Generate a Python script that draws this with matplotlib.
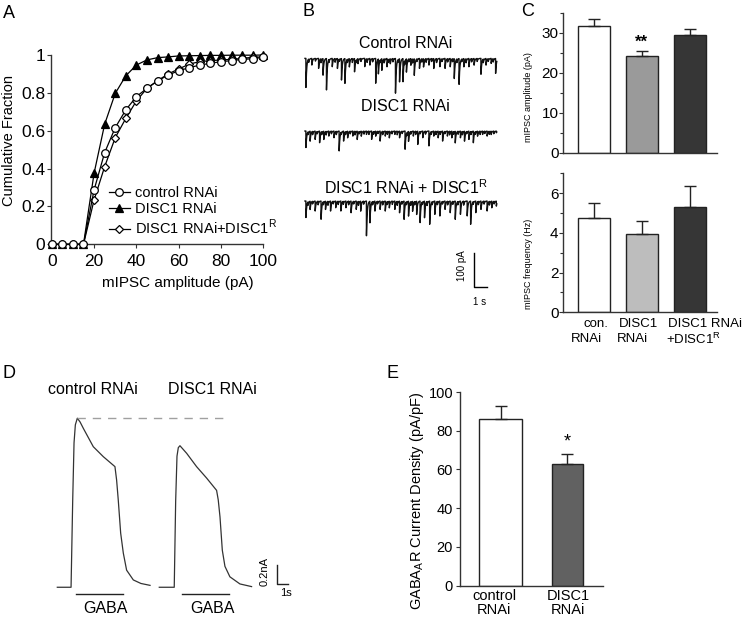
import numpy as np
import matplotlib
matplotlib.use('Agg')
from matplotlib import pyplot as plt

plt.rcParams['font.family'] = ['Liberation Sans', 'DejaVu Sans']
plt.rcParams['mathtext.fontset'] = 'custom'
plt.rcParams['mathtext.rm'] = 'Liberation Sans'

W, H = 745, 618

# ---- A: cumulative fraction of mIPSC amplitudes
amp_bins = [0, 5, 10, 15, 20, 25, 30, 35, 40, 45, 50, 55, 60, 65, 70, 75, 80, 85, 90, 95, 100]
cum_control = [0, 0, 0, 0, 0.287, 0.484, 0.616, 0.71, 0.78, 0.824, 0.863, 0.894, 0.917, 0.933,
               0.947, 0.956, 0.965, 0.97, 0.977, 0.98, 0.988]
cum_disc1 = [0, 0, 0, 0, 0.375, 0.634, 0.797, 0.89, 0.947, 0.974, 0.986, 0.99, 0.995, 0.996,
             0.997, 0.998, 0.998, 0.999, 0.999, 0.999, 1.0]
cum_rescue = [0, 0, 0, 0, 0.234, 0.41, 0.563, 0.665, 0.757, 0.824, 0.864, 0.9, 0.926, 0.952,
              0.965, 0.97, 0.974, 0.977, 0.982, 0.988, 0.99]
legend_labels = ['control RNAi', 'DISC1 RNAi', 'DISC1 RNAi+DISC1$^\\mathregular{R}$']

# ---- B: example traces, events (time s, amplitude pA)
trace_names = ['Control RNAi', 'DISC1 RNAi', 'DISC1 RNAi + DISC1$^\\mathregular{R}$']
ev_t_control = [0.08, 0.56, 1.11, 1.47, 1.75, 2.22, 2.64, 2.97, 3.25, 3.61, 4.03, 4.31, 4.86, 5.28,
                5.75, 5.97, 6.25, 6.67, 6.94, 7.36, 7.69, 7.97, 8.25, 8.61, 8.89, 9.31, 9.64, 10.08,
                10.47, 10.97, 11.39, 11.81, 12.14, 12.53, 12.92, 13.33, 13.75, 14.31, 14.72, 15.14, 15.5]
ev_a_control = [88, 20, 30, 50, 95, 25, 30, 65, 75, 25, 40, 15, 25, 20, 75, 45, 35, 25, 15, 105,
                70, 70, 40, 20, 50, 30, 25, 20, 30, 25, 30, 25, 60, 78, 25, 25, 20, 48, 20, 15, 45]
ev_t_disc1 = [0.08, 0.42, 0.83, 1.19, 1.53, 1.94, 2.36, 2.78, 3.14, 3.47, 3.89, 4.25, 4.58, 5.0,
              5.42, 5.75, 6.11, 6.53, 6.86, 7.31, 7.69, 8.14, 8.42, 8.81, 9.17, 9.58, 10.08, 10.47,
              10.83, 11.19, 11.58, 11.94, 12.22, 12.64, 12.97, 13.33, 13.69, 14.03, 14.44, 14.81,
              15.14, 15.56]
ev_a_disc1 = [50, 30, 25, 35, 25, 15, 20, 60, 30, 20, 15, 25, 15, 10, 25, 15, 30, 15, 20, 10, 20,
              55, 30, 15, 40, 20, 45, 15, 20, 30, 15, 20, 35, 20, 30, 25, 35, 15, 10, 15, 10, 5]
ev_t_rescue = [0.08, 0.42, 0.83, 1.31, 1.67, 2.08, 2.5, 2.92, 3.33, 3.75, 4.17, 4.53, 5.0, 5.28,
               5.69, 6.11, 6.53, 6.86, 7.31, 7.69, 8.06, 8.42, 8.75, 9.08, 9.36, 9.72, 10.14,
               10.56, 10.97, 11.39, 11.81, 12.22, 12.64, 13.19, 13.47, 13.89, 14.31, 14.81,
               15.19, 15.56]
ev_a_rescue = [50, 25, 30, 55, 25, 30, 20, 30, 20, 35, 25, 30, 105, 65, 30, 25, 30, 20, 25, 35,
               55, 45, 30, 40, 65, 50, 70, 40, 45, 25, 35, 55, 40, 45, 70, 35, 25, 30, 20, 15]
# small baseline flickers (estimated)
sm_t_control = [0.3, 0.85, 1.3, 1.95, 2.45, 2.8, 3.45, 3.85, 4.15, 4.55, 5.05, 5.5, 6.1, 6.45, 6.8,
                7.15, 7.55, 8.1, 8.45, 8.75, 9.1, 9.5, 9.85, 10.3, 10.7, 11.15, 11.6, 12.0, 12.35,
                12.75, 13.1, 13.55, 14.0, 14.5, 14.9, 15.3]
sm_a_control = [10, 8, 12, 9, 11, 7, 10, 12, 8, 9, 11, 10, 8, 12, 9, 10, 8, 11, 9, 12, 8, 10, 11, 9,
                12, 8, 10, 9, 11, 8, 12, 10, 9, 11, 8, 10]
sm_t_disc1 = [0.25, 0.62, 1.0, 1.36, 1.72, 2.15, 2.55, 2.95, 3.3, 3.68, 4.07, 4.42, 4.8, 5.2, 5.58,
              5.93, 6.32, 6.7, 7.08, 7.5, 7.9, 8.28, 8.6, 9.0, 9.37, 9.8, 10.27, 10.65, 11.0, 11.38,
              11.76, 12.08, 12.45, 12.8, 13.15, 13.5, 13.86, 14.24, 14.62, 14.98, 15.35]
sm_a_disc1 = [8, 10, 7, 9, 11, 8, 10, 7, 9, 8, 11, 7, 9, 10, 8, 7, 10, 9, 8, 11, 7, 9, 8, 10, 7, 9,
              8, 10, 9, 7, 11, 8, 9, 10, 7, 9, 8, 10, 7, 9, 8]
sm_t_rescue = [0.25, 0.62, 1.07, 1.5, 1.87, 2.3, 2.7, 3.12, 3.55, 3.96, 4.35, 4.77, 5.5, 5.9, 6.32,
               6.7, 7.1, 7.5, 7.88, 8.25, 8.6, 8.92, 9.55, 9.93, 10.35, 10.77, 11.18, 11.6, 12.02,
               12.43, 12.9, 13.68, 14.1, 14.56, 15.0, 15.38]
sm_a_rescue = [10, 8, 11, 9, 12, 8, 10, 9, 11, 8, 12, 9, 10, 8, 11, 9, 10, 12, 8, 9, 11, 10, 8, 12,
               9, 10, 8, 11, 9, 10, 12, 8, 10, 9, 11, 8]

# ---- C: mIPSC amplitude and frequency
c_groups = ['con.\nRNAi', 'DISC1\nRNAi', 'DISC1 RNAi\n+DISC1$^\\mathregular{R}$']
c_amp = [31.8, 24.2, 29.6]
c_amp_err = [1.7, 1.4, 1.3]
c_freq = [4.74, 3.93, 5.3]
c_freq_err = [0.76, 0.67, 1.08]

# ---- D: GABA-evoked currents (time s, current nA)
d_ctrl_t = [0, 1.25, 1.4, 1.52, 1.64, 1.82, 2.07, 2.38, 3.27, 4.18, 5.24, 5.39, 5.54, 5.76, 6.0,
            6.3, 6.91, 7.6, 8.43]
d_ctrl_i = [0, 0, 0.92, 1.52, 1.71, 1.78, 1.74, 1.67, 1.48, 1.375, 1.27, 1.13, 0.92, 0.57, 0.36,
            0.18, 0.077, 0.04, 0.02]
d_disc_t = [0, 1.36, 1.49, 1.61, 1.73, 1.88, 2.49, 3.39, 4.3, 5.21, 5.36, 5.52, 5.73, 5.97, 6.42,
            7.33, 8.39]
d_disc_i = [0, 0, 0.91, 1.38, 1.47, 1.49, 1.41, 1.27, 1.15, 1.02, 0.92, 0.74, 0.39, 0.22, 0.11,
            0.035, 0.007]
d_names = ['control RNAi', 'DISC1 RNAi']
d_gaba_on = [1.7, 2.09]
d_gaba_off = [5.94, 6.37]

# ---- E: GABAAR current density
e_groups = ['control\nRNAi', 'DISC1\nRNAi']
e_vals = [85.9, 62.8]
e_err = [6.9, 5.2]

fig = plt.figure(figsize=(W / 100, H / 100), dpi=100)


def box(x0, y0, x1, y1):
    return fig.add_axes([x0 / W, 1 - y1 / H, (x1 - x0) / W, (y1 - y0) / H])


def ftext(x, y, s, **kw):
    fig.text(x / W, 1 - y / H, s, ha=kw.pop('ha', 'center'), va=kw.pop('va', 'center'), **kw)


def style_axes(ax):
    for s in ['top', 'right']:
        ax.spines[s].set_visible(False)
    for s in ['left', 'bottom']:
        ax.spines[s].set_color('#333333')
        ax.spines[s].set_linewidth(1)


# panel letters
for letter, (x, y) in zip('ABCDE', [(9, 13), (308, 12), (528, 12), (9, 373), (392, 373)]):
    ftext(x, y, letter, fontsize=13)

# ---------------- A
axA = box(50.7, 55, 263.3, 244.3)
style_axes(axA)
mk = dict(color='black', lw=0.9, clip_on=False, mew=0.9)
axA.plot(amp_bins, cum_control, marker='o', ms=5.5, mfc='white', mec='black', zorder=4, **mk)
axA.plot(amp_bins, cum_disc1, marker='^', ms=6, mfc='black', mec='black', zorder=3, **mk)
axA.plot(amp_bins, cum_rescue, marker='D', ms=4.3, mfc='white', mec='black', zorder=3, **mk)
axA.set_xlim(-0.5, 100)
axA.set_ylim(0, 1)
axA.set_xticks([0, 20, 40, 60, 80, 100])
axA.set_yticks([0, 0.2, 0.4, 0.6, 0.8, 1])
axA.set_yticklabels(['0', '0.2', '0.4', '0.6', '0.8', '1'])
axA.tick_params(labelsize=12.5, length=3, width=0.8, pad=1, color='#333333')
axA.tick_params(axis='x', pad=4)
axA.legend(axA.lines, legend_labels, loc='lower left', bbox_to_anchor=(0.272, 0.04),
           frameon=False, fontsize=10.5, handlelength=1.5, handletextpad=0.3,
           labelspacing=0.12, borderpad=0, borderaxespad=0)
ftext(178, 283, 'mIPSC amplitude (pA)', fontsize=11)
ftext(9.5, 141, 'Cumulative Fraction', fontsize=10.5, rotation=90)

# ---------------- B
axB = box(295, 30, 505, 305)
axB.set_axis_off()
axB.set_xlim(0, 210 / 12.3)
axB.set_ylim(-833, 0)
tt = np.arange(0, 15.6, 0.005)


def mini_trace(times, amps, tau=0.06):
    y = np.zeros_like(tt)
    for t0, a in zip(times, amps):
        m = tt >= t0
        y[m] -= a * np.exp(-(tt[m] - t0) / tau)
    return y


b_base = [-86, -306, -518]
b_lab_y = [-39.4, -233, -479]
b_events = [(ev_t_control + sm_t_control, ev_a_control + sm_a_control),
            (ev_t_disc1 + sm_t_disc1, ev_a_disc1 + sm_a_disc1),
            (ev_t_rescue + sm_t_rescue, ev_a_rescue + sm_a_rescue)]
for name, (ts, amps), y0, ly in zip(trace_names, b_events, b_base, b_lab_y):
    axB.plot(tt + 0.81, mini_trace(ts, amps) + y0, color='#111111', lw=1.0)
    axB.text(9.0, ly, name, ha='center', va='center', fontsize=11.5)
axB.plot([14.55, 14.55, 15.61], [-676, -779, -779], color='black', lw=1)
axB.text(13.55, -714, '100 pA', rotation=90, ha='center', va='center', fontsize=7)
axB.text(14.98, -823, '1 s', ha='center', va='center', fontsize=7)

# ---------------- C
c_x = np.arange(3)
axC1 = box(563.3, 13, 717, 152.7)
axC2 = box(563.3, 173.3, 717, 312.3)
for ax, vals, errs, cols, ylim, major, minor in [
        (axC1, c_amp, c_amp_err, ['white', '#9a9a9a', '#363636'], 35, [0, 10, 20, 30], [5, 15, 25, 35]),
        (axC2, c_freq, c_freq_err, ['white', '#bdbdbd', '#363636'], 7, [0, 2, 4, 6], [1, 3, 5, 7])]:
    style_axes(ax)
    ax.bar(c_x, vals, width=0.67, color=cols, edgecolor='#222222', linewidth=1,
           yerr=[[0] * 3, errs], error_kw=dict(ecolor='#222222', elinewidth=1, capsize=4, capthick=1))
    ax.set_xlim(-0.633, 2.57)
    ax.set_ylim(0, ylim)
    ax.set_yticks(major)
    ax.set_yticks(minor, minor=True)
    ax.set_xticks([])
    ax.tick_params(axis='y', labelsize=11, length=3, width=0.8, pad=0.5, color='#333333')
    ax.tick_params(axis='y', which='minor', length=2, width=0.8, color='#333333')
axC1.text(1, 27.7, '**', ha='center', va='center', fontsize=12, fontweight='bold')
ftext(528.3, 97.5, 'mIPSC amplitude (pA)', fontsize=6.5, rotation=90)
ftext(528.3, 264.2, 'mIPSC frequency (Hz)', fontsize=6.5, rotation=90)
c_lab_pos = [((596, 324.5), (586, 339)), ((638.7, 324.5), (632.5, 339)), ((705.5, 324.5), (694, 339))]
for lab, (p1, p2) in zip(c_groups, c_lab_pos):
    l1, l2 = lab.split('\n')
    ftext(p1[0], p1[1], l1, fontsize=9.5)
    ftext(p2[0], p2[1], l2, fontsize=9.5)

# ---------------- D
axD = box(0, 380, 300, 615)
axD.set_axis_off()
axD.set_xlim(0, 300 / 11)
axD.set_ylim(-0.292, 2.182)
d_offsets = [5.21, 14.48]
d_lab_x = [8.45, 19.32]
d_gaba_x = [4.4, 4.82]
for (ts, cur), off, name, lx, g0, g1, gx in zip([(d_ctrl_t, d_ctrl_i), (d_disc_t, d_disc_i)],
                                               d_offsets, d_names, d_lab_x, d_gaba_on,
                                               d_gaba_off, d_gaba_x):
    axD.plot(np.array(ts) + off, cur, color='#333333', lw=0.9)
    axD.text(lx, 2.08, name, ha='center', va='center', fontsize=11.5)
    axD.plot([g0 + off, g1 + off], [-0.07, -0.07], color='#222222', lw=1)
    axD.text(gx + off, -0.22, 'GABA', ha='center', va='center', fontsize=11.5)
peak_i = max(d_ctrl_i)
peak_t = d_ctrl_t[d_ctrl_i.index(peak_i)] + d_offsets[0]
axD.plot([peak_t, 20.25], [peak_i, peak_i], color='#a0a0a0', lw=1, dashes=(6, 5))
axD.plot([25.21, 25.21, 26.21], [0.235, 0.035, 0.035], color='#222222', lw=1)
axD.text(24.1, 0.17, '0.2nA', rotation=90, ha='center', va='center', fontsize=8)
axD.text(26.0, -0.063, '1s', ha='center', va='center', fontsize=8)

# ---------------- E
axE = box(460, 392, 602.7, 585.7)
style_axes(axE)
e_x = np.arange(2)
axE.bar(e_x, e_vals, width=[0.65, 0.46], color=['white', '#616161'], edgecolor='#222222',
        linewidth=1, yerr=[[0, 0], e_err],
        error_kw=dict(ecolor='#222222', elinewidth=1, capsize=4, capthick=1))
axE.set_xlim(-0.613, 1.532)
axE.set_ylim(0, 100)
axE.set_yticks([0, 20, 40, 60, 80, 100])
axE.set_xticks([])
axE.tick_params(axis='y', labelsize=10.5, length=3, width=0.8, pad=2, color='#333333')
axE.text(1, 74.3, '*', ha='center', va='center', fontsize=13)
ftext(417, 501, 'GABA$_\\mathregular{A}$R Current Density (pA/pF)', fontsize=10.5, rotation=90)
for lab, x in zip(e_groups, [494, 568]):
    l1, l2 = lab.split('\n')
    ftext(x, 596, l1, fontsize=10.5)
    ftext(x, 609.5, l2, fontsize=10.5)

fig.savefig('out.png', dpi=100)
